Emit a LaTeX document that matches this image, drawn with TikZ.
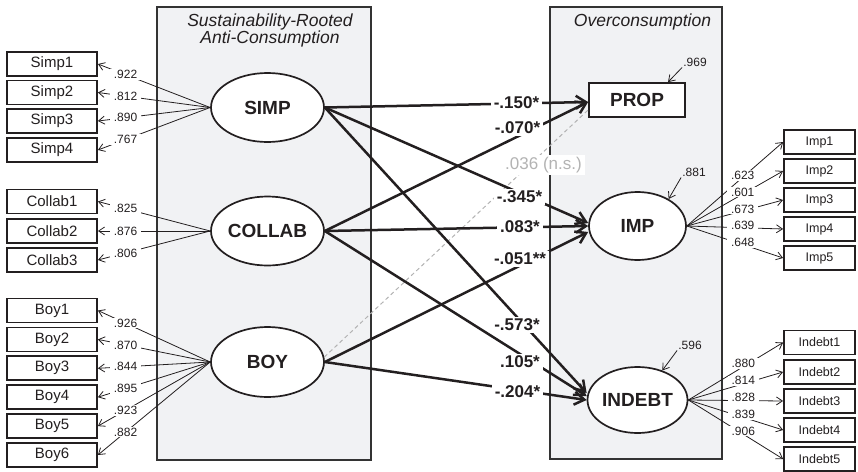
\documentclass[tikz,border=0pt]{standalone}
\usepackage{fontspec}
\setmainfont{Liberation Sans}
\usetikzlibrary{arrows.meta,shapes.geometric}

\definecolor{ink}{HTML}{231F20}
\definecolor{panelfill}{HTML}{F1F2F4}
\definecolor{panelline}{HTML}{333333}
\definecolor{nsgray}{HTML}{B3B3B3}

\begin{document}
\begin{tikzpicture}[x=1pt,y=-1pt,
  panel/.style={draw=panelline, fill=panelfill, line width=2.2pt},
  latent/.style={ellipse, draw=ink, fill=white, line width=1.7pt, inner sep=0pt,
    text=ink, font=\fontsize{19}{21}\selectfont\bfseries},
  leftind/.style={rectangle, draw=ink, fill=white, line width=1.8pt,
    minimum width=90pt, minimum height=24pt, inner sep=0pt, text=ink,
    font=\fontsize{15}{17}\selectfont},
  rightind/.style={leftind, minimum width=71pt, font=\fontsize{12.5}{14}\selectfont},
  load/.style={draw=ink, line width=0.8pt,
    -{Straight Barb[length=6pt,width=8pt]}},
  loadlbl/.style={fill=white, inner xsep=4pt, inner ysep=1pt, text=ink,
    font=\fontsize{12}{14}\selectfont},
  effect/.style={draw=ink, line width=2.5pt,
    -{Straight Barb[length=10pt,width=13pt]}},
  efflbl/.style={fill=white, inner xsep=3pt, inner ysep=2pt, text=ink,
    font=\fontsize{17}{19}\selectfont\bfseries},
  nsline/.style={draw=nsgray, line width=1pt, dash pattern=on 4pt off 3pt},
  resid/.style={draw=ink, line width=0.8pt,
    -{Straight Barb[length=6pt,width=8pt]}},
  residlbl/.style={inner sep=1pt, text=ink, font=\fontsize{12}{14}\selectfont},
  paneltitle/.style={inner sep=0pt, text=ink, font=\fontsize{17.5}{15}\selectfont\itshape}
]
\path[use as bounding box] (0,0) rectangle (858,471);

% construct panels
\draw[panel] (157,7) rectangle (371,460);
\draw[panel] (550,7) rectangle (722,459);
\node[paneltitle, align=center] (titleL) at (270,30.6) {Sustainability-Rooted\\Anti-Consumption};
\node[paneltitle, anchor=base] (titleR) at (642.5,26.7) {Overconsumption};

% latent constructs
\node[latent, minimum width=113pt, minimum height=69pt] (simp) at (267.5,107.5) {SIMP};
\node[latent, minimum width=113pt, minimum height=69pt] (collab) at (267.5,231) {COLLAB};
\node[latent, minimum width=113pt, minimum height=70pt] (boy) at (267.5,362) {BOY};
\node[rectangle, draw=ink, fill=white, line width=1.8pt, minimum width=96pt,
  minimum height=34pt, inner sep=0pt, text=ink,
  font=\fontsize{19}{21}\selectfont\bfseries] (prop) at (637,100) {PROP};
\node[latent, minimum width=97pt, minimum height=68pt] (imp) at (637.5,226) {IMP};
\node[latent, minimum width=97pt, minimum height=66pt] (indebt) at (637.5,400) {INDEBT};

% indicators, left side
\foreach \i/\y in {1/64,2/92.5,3/121,4/150}
  \node[leftind] (s\i) at (52,\y) {Simp\i};
\foreach \i/\y in {1/201.5,2/231,3/260}
  \node[leftind] (c\i) at (52,\y) {Collab\i};
\foreach \i/\y in {1/310.5,2/339.4,3/368.3,4/397.2,5/426.1,6/455}
  \node[leftind] (b\i) at (52,\y) {Boy\i};

% indicators, right side
\foreach \i/\y in {1/142,2/171,3/200,4/229,5/258}
  \node[rightind] (m\i) at (819.5,\y) {Imp\i};
\foreach \i/\y in {1/342.5,2/372,3/401,4/430,5/459}
  \node[rightind] (d\i) at (819.5,\y) {Indebt\i};

% loadings
\foreach \i/\v in {1/.922,2/.812,3/.890,4/.767}
  \draw[load] (simp.west) -- node[loadlbl,pos=0.754]{\v} (s\i.east);
\foreach \i/\v in {1/.825,2/.876,3/.806}
  \draw[load] (collab.west) -- node[loadlbl,pos=0.754]{\v} (c\i.east);
\foreach \i/\v in {1/.926,2/.870,3/.844,4/.895,5/.923,6/.882}
  \draw[load] (boy.west) -- node[loadlbl,pos=0.754]{\v} (b\i.east);
\foreach \i/\v in {1/.623,2/.601,3/.673,4/.639,5/.648}
  \draw[load] (imp.east) -- node[loadlbl,pos=0.58,yshift=2pt]{\v} (m\i.west);
\foreach \i/\v in {1/.880,2/.814,3/.828,4/.839,5/.906}
  \draw[load] (indebt.east) -- node[loadlbl,pos=0.58,yshift=3pt]{\v} (d\i.west);

% structural paths
\draw[nsline] (boy.5) -- ([yshift=-10pt]prop.west);
\draw[effect] (simp.east) -- ([yshift=-2pt]prop.west);
\draw[effect] (collab.east) -- ([yshift=-2pt]prop.west);
\draw[effect] (simp.east) -- ([yshift=3pt]imp.west);
\draw[effect] (collab.east) -- (imp.west);
\draw[effect] (boy.east) -- ([yshift=-6pt]imp.west);
\draw[effect] (simp.east) -- ([yshift=7pt]indebt.west);
\draw[effect] (collab.east) -- ([yshift=4pt]indebt.west);
\draw[effect] (boy.east) -- (indebt.west);

% path coefficients
\node[efflbl] (e1) at (516.5,103) {-.150*};
\node[efflbl] (e2) at (517.5,128) {-.070*};
\node[efflbl, text=nsgray, font=\fontsize{17}{19}\selectfont] (e3) at (543.5,165) {.036 (n.s.)};
\node[efflbl] (e4) at (519.5,197) {-.345*};
\node[efflbl] (e5) at (520,227) {.083*};
\node[efflbl] (e6) at (520,259) {-.051**};
\node[efflbl] (e7) at (517,325) {-.573*};
\node[efflbl] (e8) at (520,362) {.105*};
\node[efflbl] (e9) at (517.5,392) {-.204*};

% explained variance
\node[residlbl] (rprop) at (695,62) {.969};
\draw[resid] (rprop.south west) -- ([xshift=31pt]prop.north);
\node[residlbl] (rimp) at (694,172) {.881};
\draw[resid] (rimp.south west) -- (imp.41);
\node[residlbl] (rind) at (690,345) {.596};
\draw[resid] (rind.south west) -- (indebt.50);
\end{tikzpicture}
\end{document}
